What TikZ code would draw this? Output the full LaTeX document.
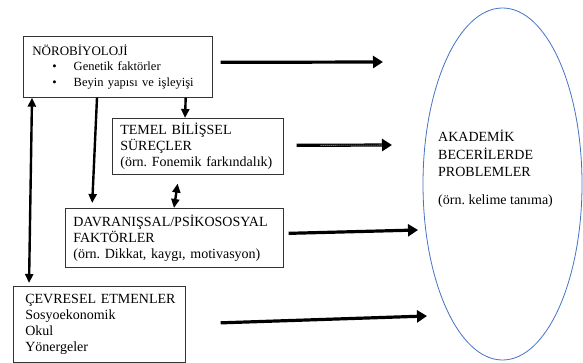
\documentclass[tikz,border=0pt]{standalone}
\usepackage{fontspec}
\setmainfont{Liberation Serif}
\usepackage{tikz}
\usetikzlibrary{shapes.geometric, arrows.meta, positioning}
\definecolor{ellipseblue}{RGB}{68,114,196}
\frenchspacing
\tikzset{
    factor/.style={rectangle, draw=black!80, line width=0.7pt, align=left, anchor=north west, inner ysep=0pt, font=\fontsize{14}{16}\selectfont},
    arrow/.style={line width=3.2pt, -{Triangle[length=10pt,width=12pt]}},
    link/.style={line width=2.4pt, -{Triangle[length=9pt,width=8pt]}},
    bothway/.style={line width=2.4pt, {Triangle[length=9pt,width=8pt]}-{Triangle[length=9pt,width=8pt]}},
    hatched/.style={postaction={draw=white, -, line width=0.6pt, dash pattern=on 0.8pt off 1.2pt, shorten <=24pt, shorten >=10pt}},
}

\begin{document}
\begin{tikzpicture}[x=1pt,y=-1pt]
  \useasboundingbox (0,0) rectangle (583,363);

  \node[factor, text width=177pt, inner xsep=6pt, minimum height=61pt, font=\fontsize{13}{15.5}\selectfont] (neuro) at (23,36)
    {\hspace*{3pt}NÖROBİYOLOJİ\\
     \fontsize{12.5}{15.5}\selectfont
     \hspace*{23pt}\textbullet\hspace*{17pt}Genetik faktörler\\
     \hspace*{23pt}\textbullet\hspace*{17pt}Beyin yapısı ve işleyişi};
  \node[factor, text width=155pt, inner xsep=8pt, minimum height=56pt] (basic) at (112,118)
    {TEMEL BİLİŞSEL\\ SÜREÇLER\\ (örn. Fonemik farkındalık)};
  \node[factor, text width=202pt, inner xsep=8pt, minimum height=59pt] (behav) at (65,208)
    {DAVRANIŞSAL/PSİKOSOSYAL\\ FAKTÖRLER\\ (örn. Dikkat, kaygı, motivasyon)};
  \node[factor, text width=156pt, inner xsep=8pt, minimum height=76pt] (env) at (13,286)
    {\hspace*{4pt}ÇEVRESEL ETMENLER\\ \hspace*{4pt}Sosyoekonomik\\ \hspace*{4pt}Okul\\ \hspace*{4pt}Yönergeler};

  \node[ellipse, draw=ellipseblue, line width=0.8pt, minimum width=159pt, minimum height=352pt, inner sep=0pt] (problems) at (502.5,184) {};
  \node[align=left, anchor=north west, inner sep=0pt, font=\fontsize{14}{17.5}\selectfont] (problemtext) at (438,130)
    {AKADEMİK\\ BECERİLERDE\\ PROBLEMLER\\[10pt] (örn. kelime tanıma)};

  % arrow tips in front of the ellipse
  \coordinate (t1) at (383,62);
  \coordinate (t2) at (392,145);
  \coordinate (t3) at (418,230);
  \coordinate (t4) at (427,316);

  \draw[arrow] ([xshift=8pt,yshift=4.5pt]neuro.east) -- (t1);
  \draw[arrow, hatched] ([xshift=13pt,yshift=1pt]basic.east) -- (t2);
  \draw[arrow] ([xshift=5pt,yshift=4.5pt]behav.east) -- (t3);
  \draw[arrow] ([xshift=35pt,yshift=1.5pt]env.east) -- (t4);

  \draw[bothway, shorten >=3pt] ([xshift=9pt]neuro.south west) -- ([xshift=16pt]env.north west);
  \draw[link, shorten >=5pt] ([xshift=74pt]neuro.south west) -- ([xshift=27pt]behav.north west);
  \draw[link] ([xshift=-27pt]neuro.south east) -- ([xshift=73pt]basic.north west);
  \draw[bothway, shorten <=9pt] ([xshift=67pt]basic.south west) -- ([xshift=109pt]behav.north west);
\end{tikzpicture}
\end{document}
